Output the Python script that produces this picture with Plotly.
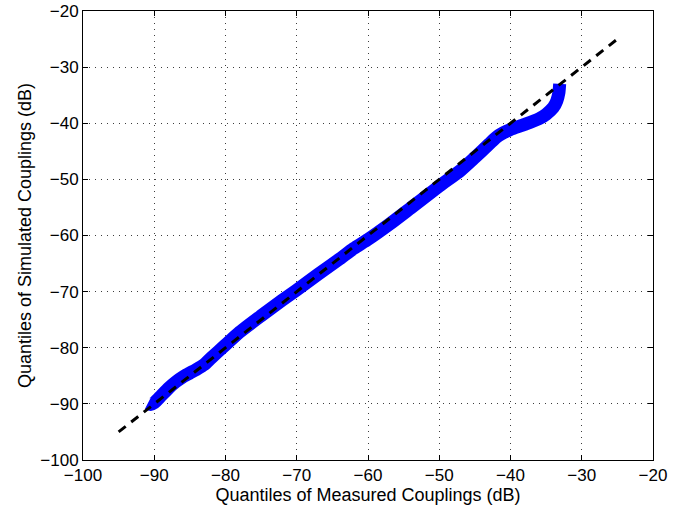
import plotly.graph_objects as go

# Quantile pairs (measured, simulated) in dB
measured_q = [-90.9, -90.5, -90.0, -89.0, -88.0, -87.0, -86.0, -85.0, -84.0, -83.0, -82.0,
              -80.0, -78.0, -75.0, -72.0, -70.0, -67.0, -64.0, -62.0, -60.0, -57.0,
              -54.0, -50.0, -47.0, -45.0, -43.0, -42.0, -41.0, -40.0, -38.0, -36.0,
              -35.0, -34.0, -33.5, -33.2, -33.1]
simulated_q = [-89.9, -90.1, -89.8, -88.5, -87.2, -86.1, -85.2, -84.5, -83.8, -83.0, -81.8,
               -79.5, -77.2, -74.3, -71.5, -69.7, -66.9, -64.2, -62.3, -60.7, -58.0,
               -55.1, -51.2, -48.4, -46.1, -43.7, -42.5, -41.7, -41.1, -40.2, -39.2,
               -38.4, -37.2, -36.0, -34.5, -33.0]

# Reference line endpoints
ref_x = [-95, -25]
ref_y = [-95, -25]

x_ticks = [-100, -90, -80, -70, -60, -50, -40, -30, -20]
y_ticks = [-100, -90, -80, -70, -60, -50, -40, -30, -20]

FONT = "Liberation Sans, Arial, Helvetica, sans-serif"

fig = go.Figure()
fig.add_trace(go.Scatter(x=measured_q, y=simulated_q, mode="lines",
                         line=dict(color="rgb(0,0,255)", width=13, shape="spline", smoothing=0.6),
                         showlegend=False, hoverinfo="x+y"))
fig.add_trace(go.Scatter(x=ref_x, y=ref_y, mode="lines",
                         line=dict(color="black", width=3, dash="9px,7px"),
                         showlegend=False))

axis_common = dict(
    showline=True, linecolor="black", linewidth=1, mirror="ticks",
    ticks="inside", ticklen=5, tickcolor="black",
    showgrid=True, gridcolor="rgba(40,40,40,0.9)", gridwidth=1, griddash="1px,5px",
    zeroline=False, automargin=False, ticklabeloverflow="allow",
    tickfont=dict(family=FONT, size=17, color="black"),
)

fig.update_xaxes(range=[-100, -20], tickvals=x_ticks,
                 title=dict(text="Quantiles of Measured Couplings (dB)",
                            font=dict(family=FONT, size=18, color="black"),
                            standoff=0),
                 **axis_common)
fig.update_yaxes(range=[-100, -20], tickvals=y_ticks,
                 title=dict(text="Quantiles of Simulated Couplings (dB)",
                            font=dict(family=FONT, size=18, color="black"),
                            standoff=4),
                 **axis_common)

fig.update_layout(
    width=683, height=506,
    margin=dict(l=83, r=30, t=11, b=46, autoexpand=False),
    paper_bgcolor="white", plot_bgcolor="white",
    showlegend=False,
)

# Remove the default page margin so the figure fills the window exactly.
fig.write_html(
    "out.html",
    config={"displayModeBar": False},
    post_script="document.body.style.margin='0';document.body.style.overflow='hidden';",
)
